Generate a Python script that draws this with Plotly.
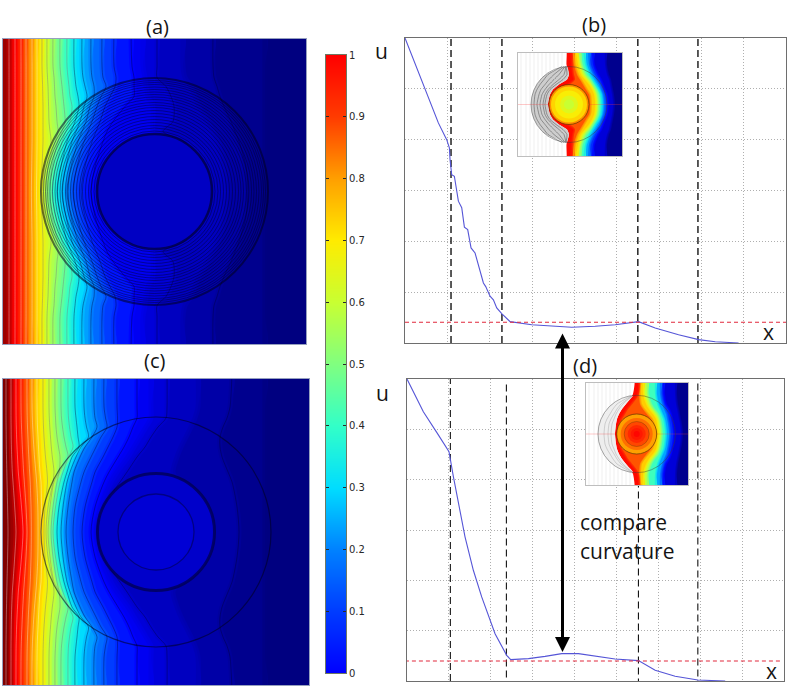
import numpy as np
import plotly.graph_objects as go

W, H = 792, 699

# ---------- colour scale (value -> rgb) ----------
CS_Z = [-0.17, 0, 0.1, 0.2, 0.3, 0.4, 0.5, 0.6, 0.7, 0.8, 0.9, 1.0, 1.13]
CS_R = [0, 0, 0, 0, 0, 50, 128, 200, 255, 255, 255, 255, 128]
CS_G = [0, 0, 60, 130, 220, 255, 255, 255, 235, 160, 60, 0, 0]
CS_B = [128, 255, 255, 255, 255, 200, 128, 50, 0, 0, 0, 0, 0]

# ---------- colour bar ----------
BAR_LEVELS = [0, 0.1, 0.2, 0.3, 0.4, 0.5, 0.6, 0.7, 0.8, 0.9, 1.0]

# ---------- panel (a): iso-line x position per row, one list per level ----------
A_ROWS = [160, 125, 114, 105, 95, 85, 70, 60, 50, 25, 0]
A_LEVELS = [-.2, -.167, -.133, -.1, -.067, -.033, 0, .067, .133, .2, .267, .333, .4, .467,
            .533, .6, .667, .733, .8, .867, .933, 1.0, 1.067]
A_NOLINE = [-.2, -.167, -.1, -.033]
A_ISO = [
    [320, 320, 320, 320, 320, 320, 320, 320, 320, 320, 320],
    [262, 262, 262, 262, 262, 262, 262, 262, 262, 262, 262],
    [210, 210, 211, 214, 217, 221, 228, 232, 236, 243, 245],
    [180, 180, 182, 188, 192, 196, 205, 210, 215, 222, 225],
    [154, 154, 154, 163, 168, 171, 170, 160, 181, 203, 209],
    [140, 140, 142, 143, 145, 150, 150, 150, 150, 150, 150],
    [128, 129, 131, 131, 131, 122, 110, 104, 100, 92, 88],
    [111, 111, 113, 112, 107, 102, 97, 93, 89, 82, 78],
    [99, 99, 100, 103, 98, 94, 89, 85, 81, 74, 70],
    [88, 88, 89, 91, 91, 87, 83, 79, 75, 68, 64],
    [79, 79, 80, 82, 84, 81, 77, 73, 69, 63, 59],
    [71, 71, 72, 73, 75, 76, 72, 68, 64, 58, 54],
    [64, 64, 65, 66, 67, 69, 67, 63, 59, 53, 49],
    [57, 57, 58, 59, 60, 61, 62, 59, 55, 49, 46],
    [50, 50, 51, 51.5, 52, 53, 54, 55, 52, 45, 43],
    [44, 44, 44.5, 45, 45.3, 45.6, 46, 47, 48, 42, 40],
    [39, 39, 39.3, 39.6, 39.8, 40, 40, 40, 40, 39, 37.5],
    [34, 34, 34, 34, 34, 34, 34, 34, 34, 33.8, 33.5],
    [29, 29, 29, 29, 29, 29, 29, 29, 29, 28.7, 28.4],
    [23, 23, 23, 23, 23, 23, 23, 23, 23, 23, 23],
    [18, 18, 18, 18, 18, 18, 18, 18, 18, 18, 18],
    [12, 12, 12, 12, 12, 12, 12, 12, 12, 12, 12],
    [6, 6, 6, 6, 6, 6, 6, 6, 6, 6, 6],
]
A_CENTER = 151.5
A_OUTER_R = 113.5
A_INNER_R = 57.5
A_INNER_U = -0.08
A_RINGS = [60.5, 63.5, 66, 69, 72, 75, 78, 81, 84, 86.5, 89, 92, 94.5, 97, 99.5, 102, 104.5, 107, 109, 111]

# ---------- panel (c) ----------
C_ROWS = [160, 125, 114, 105, 95, 85, 75, 60, 50, 25, 0]
C_LEVELS = [-.2, -.167, -.133, -.1, -.067, -.033, 0, .067, .133, .2, .267, .333, .4, .467,
            .533, .6, .667, .733, .8, .867, .933, 1.0, 1.067, 1.133]
C_NOLINE = [-.2, -.167, -.1, -.033]
C_ISO = [
    [320, 320, 320, 320, 320, 320, 320, 320, 320, 320, 320],
    [262, 262, 262, 262, 262, 262, 262, 262, 262, 262, 262],
    [229, 227, 224, 220, 217, 217, 219, 225, 229, 234, 236],
    [195, 195, 192, 188, 183, 178, 174, 170, 175, 180, 182],
    [164, 164, 163, 155, 148, 142, 134, 124, 117, 100, 94],
    [148, 148, 148, 143, 137, 131, 125, 114, 108, 98, 92],
    [134, 134, 134, 130, 126, 121, 115, 106, 101, 92, 88],
    [114, 114, 114.5, 114, 110, 105, 100, 92, 89, 82, 79],
    [101, 101, 102.5, 104, 98, 93, 88, 81, 78, 72, 70],
    [91, 91, 92, 94, 89, 82, 77, 71, 69, 65, 63],
    [81, 81, 82, 83.5, 85.5, 78, 73, 67, 64, 60, 58],
    [72, 72, 73, 74, 75, 76, 69, 64, 61, 56, 54],
    [65, 65, 65.5, 66.5, 68, 70, 65.5, 60, 57, 52.5, 50],
    [58, 58, 58.5, 59.5, 61, 63, 65, 56.5, 54, 50, 48],
    [52, 52, 52.5, 53, 54, 55.5, 57, 56, 51, 47, 45],
    [46, 46, 46.3, 46.8, 47.5, 48.3, 49.3, 51, 50, 45, 43],
    [40, 40, 40.2, 40.5, 41, 41.7, 42.5, 44, 44.5, 42, 41],
    [34, 34, 34.2, 34.5, 35, 35.5, 36, 37, 38, 38.5, 38],
    [29, 29, 29.3, 29.7, 30.2, 30.8, 31.5, 32.8, 33.6, 34.8, 35],
    [24, 24, 24.2, 24.5, 24.9, 25.3, 25.8, 26.6, 27.2, 28, 28.3],
    [18, 18, 18.2, 18.5, 18.9, 19.3, 19.8, 20.6, 21.3, 23, 24],
    [13, 13, 13.1, 13.3, 13.6, 14, 14.5, 15.3, 16.2, 18.5, 20],
    [8, 8, 8, 8.1, 8.2, 8.4, 8.7, 9.3, 10, 11.7, 13],
    [3, 3, 3, 3.1, 3.2, 3.3, 3.5, 3.8, 4, 4.6, 5],
]
C_CENTER = 153
C_OUTER_R = 115
C_MID_R = 58.5
C_MID_U = -0.07
C_CORE_R = 38
C_CORE_U = -0.055

# ---------- line plot (b) ----------
B_X = [0, .473, .788, .985, 1.048, 1.064, 1.103, 1.166, 1.261, 1.340, 1.403, 1.481, 1.560, 1.655,
       1.773, 1.852, 1.907, 2.009, 2.088, 2.167, 2.285, 2.482, 2.994, 3.467, 3.940, 4.492, 4.965,
       5.516, 5.910, 6.462, 6.935, 7.329, 7.88]
B_U = [6.0, 4.98, 4.33, 4.0, 3.84, 3.61, 3.31, 3.28, 2.79, 2.66, 2.28, 2.23, 1.87, 1.77,
       1.41, 1.18, 1.11, .92, .85, .69, .58, .42, .36, .33, .31, .33, .36,
       .42, .295, .164, .066, .026, 0]
B_DASH_X = [1.087, 2.29, 5.5, 6.92]
B_DASH_TOP = [6, 6, 6, 6]
B_DASH_BOTTOM = [0, 0, 0, 0]
B_REF_U = 0.407
B_REF_X = [0, 9.06]

# ---------- line plot (d) ----------
D_X = [0, .39, .748, 1.003, 1.107, 1.266, 1.385, 1.584, 1.783, 2.102, 2.38, 2.476, 2.898, 3.296,
       3.694, 4.092, 4.49, 4.968, 5.525, 5.924, 6.401, 6.943, 7.596]
D_U = [6, 5.35, 4.89, 4.556, 4.06, 3.395, 2.865, 2.2, 1.67, .94, .51, .424, .444, .49,
       .544, .544, .497, .438, .405, .212, .093, .02, 0]
D_DASH_X = [1.035, 2.373, 5.525, 6.943]
D_DASH_TOP = [6.08, 5.915, 3.9, 5.95]
D_DASH_BOTTOM = [0, -.15, -.09, -.13]
D_REF_U = 0.398
D_REF_X = [-.05, 8.96]

# ---------- inset of (b) ----------
IB_ROWS = [58, 40, 30, 25, 20, 15, 10, 0]
IB_LEVELS = [-.2, -.1, 0, .15, .33, .5, .68, .8, .95]
IB_ISO = [
    [120, 120, 120, 120, 120, 120, 120, 120],
    [88, 88, 90, 92, 93, 94, 95, 96],
    [75, 76, 80, 83, 85, 87, 89, 90],
    [71, 72, 76, 79, 82, 84, 86, 87],
    [66, 68, 72, 75, 78, 81, 83, 84],
    [61, 64, 68, 72, 75, 78, 80, 81],
    [58, 61, 64, 68, 72, 75, 77, 78],
    [55, 57, 60, 63, 66, 69, 72, 73],
    [53, 54, 55, 56, 50, 43, 36, 33],
]
IB_FRONT = [47.7, 48.5, 51, 49, 41, 35, 32, 30]
IB_GRAY_ROWS = [38, 30, 25, 20, 15, 10, 0]
IB_GRAY_LEFT = [49, 27.7, 22.4, 18.7, 16, 14.3, 13]
IB_GRAY_RIGHT = [49, 51, 49, 41, 35, 32, 30]
IB_ARCS = [
    [44, 30, 26, 22, 19, 17, 16],
    [46, 36, 31, 27, 23, 21, 19],
    [47, 41, 36, 31, 27, 24, 22],
    [48, 46, 41, 35, 30, 27, 25],
    [48, 49, 45, 38, 32, 29, 27],
]
IB_CENTER = 51
IB_OUTER_R = 38
IB_DISC_R = [20, 18, 14, 9, 5]
IB_DISC_U = [.82, .73, .69, .64, .6]

# ---------- inset of (d) ----------
ID_ROWS = [58, 40, 30, 25, 20, 15, 10, 0]
ID_LEVELS = [-.2, -.1, 0, .15, .33, .5, .68, .8, .95]
ID_ISO = [
    [120, 120, 120, 120, 120, 120, 120, 120],
    [90, 90, 91, 92, 93, 94, 95, 96],
    [78, 78, 80, 83, 85, 86, 87, 88],
    [75, 75, 77, 79, 81, 82, 83, 84],
    [70, 70, 72, 74, 76, 78, 79, 80],
    [62, 62, 65, 68, 72, 74, 75, 76],
    [58, 58, 61, 64, 68, 71, 72, 73],
    [54, 54, 55, 58, 62, 66, 68, 70],
    [53, 52, 45, 41, 38, 35, 33, 32],
]
ID_FRONT = [48, 47, 40, 36, 33, 31, 30, 29]
ID_GRAY_ROWS = [38, 30, 25, 20, 15, 10, 0]
ID_GRAY_LEFT = [43, 26, 21, 17.6, 15, 13.4, 12]
ID_GRAY_RIGHT = [47, 40, 36, 33, 31, 30, 29]
ID_ARCS = [
    [45, 31, 27, 24, 21, 19, 18],
    [46, 35, 31, 28, 25, 23, 22],
    [46, 37, 33, 30, 28, 26, 25],
]
ID_CENTER = 50.7
ID_OUTER_R = 38.7
ID_DISC_R = [20, 16, 12.5, 9, 6, 3]
ID_DISC_U = [.8, .85, .89, .93, .96, .99]
INSET_GRID_X = [3, 8, 12, 16, 20, 24, 28, 32, 36, 40, 44]
INSET_GRID_STOP = [0, 0, 0, 18, 24, 28, 31, 34, 36, 37, 38]

# ---------- texts ----------
PANEL_TITLES = ["(a)", "(b)", "(c)", "(d)"]
AXIS_U = "u"
AXIS_X = "x"
NOTE_LINES = ["compare", "curvature"]


def rgb(u):
    return "rgb(%d,%d,%d)" % (np.interp(u, CS_Z, CS_R), np.interp(u, CS_Z, CS_G), np.interp(u, CS_Z, CS_B))


def rgba(u, a):
    return "rgba(%d,%d,%d,%g)" % (np.interp(u, CS_Z, CS_R), np.interp(u, CS_Z, CS_G), np.interp(u, CS_Z, CS_B), a)


def px_x(v):
    return v / W


def px_y(v):
    return 1 - v / H


fig = go.Figure()
layout = dict(
    width=W, height=H, margin=dict(l=0, r=0, t=0, b=0, pad=0, autoexpand=False), autosize=False,
    showlegend=False, paper_bgcolor="white", plot_bgcolor="white",
)


def add_axes(n, x0, x1, y0, y1, xr, yr, **kw):
    sx = "" if n == 1 else str(n)
    base = dict(showgrid=False, zeroline=False, showticklabels=False, ticks="")
    xa = dict(base, domain=[px_x(x0), px_x(x1)], range=xr, anchor="y" + sx)
    ya = dict(base, domain=[px_y(y1), px_y(y0)], range=yr, anchor="x" + sx)
    xa.update(kw.get("x", {}))
    ya.update(kw.get("y", {}))
    layout["xaxis" + sx] = xa
    layout["yaxis" + sx] = ya
    return "x" + sx, "y" + sx


def mirrored(rows, vals):
    ys = list(rows) + [-r for r in reversed(rows[:-1])]
    xs = list(vals) + list(reversed(vals[:-1]))
    return xs, ys


def line_color(level):
    if level >= 0.7:
        return "rgba(255,255,255,0.38)"
    if level >= 0.4:
        return "rgba(120,120,120,0.45)"
    return "rgba(0,0,50,0.42)"


def add_bands(xr, yr, rows, levels, iso, noline, left, soft=5):
    paths = []
    for i, lv in enumerate(levels):
        top = levels[i + 1] if i + 1 < len(levels) else lv + 0.067
        xs, ys = mirrored(rows, iso[i])
        paths.append((lv, xs, ys))
        fig.add_trace(go.Scatter(
            x=[left] + xs + [left], y=[ys[0]] + ys + [ys[-1]], xaxis=xr, yaxis=yr,
            mode="lines", fill="toself", fillcolor=rgb((lv + top) / 2),
            line=dict(color="rgba(0,0,0,0)", width=0, shape="spline", smoothing=0.8),
            hoverinfo="skip"))
    for lv, xs, ys in paths:
        if soft:
            fig.add_trace(go.Scatter(x=xs, y=ys, xaxis=xr, yaxis=yr, mode="lines",
                                     line=dict(color=rgba(lv, 0.75), width=soft, shape="spline", smoothing=0.8),
                                     hoverinfo="skip"))
    for lv, xs, ys in paths:
        if lv not in noline:
            fig.add_trace(go.Scatter(x=xs, y=ys, xaxis=xr, yaxis=yr, mode="lines",
                                     line=dict(color=line_color(lv), width=0.9, shape="spline", smoothing=0.8),
                                     hoverinfo="skip"))


def circle(xr, yr, cx, r, color, width, fill=None):
    layout.setdefault("shapes", []).append(dict(
        type="circle", xref=xr, yref=yr, x0=cx - r, x1=cx + r, y0=-r, y1=r,
        line=dict(color=color, width=width), fillcolor=fill or "rgba(0,0,0,0)", layer="above"))


frame = dict(showline=True, linecolor="rgb(150,160,190)", linewidth=1, mirror=True)
# panel (a)
xa, ya = add_axes(1, 3, 306, 39, 344, [0, 303], [-152.5, 152.5], x=frame, y=frame)
add_bands(xa, ya, A_ROWS, A_LEVELS, A_ISO, A_NOLINE, -8)
circle(xa, ya, A_CENTER, A_INNER_R, "rgba(0,0,0,0)", 0, rgb(A_INNER_U))
for r in A_RINGS:
    circle(xa, ya, A_CENTER, r, "rgba(0,0,30,0.42)", 1)
circle(xa, ya, A_CENTER, A_OUTER_R, "rgba(0,0,30,0.55)", 2)
circle(xa, ya, A_CENTER, A_INNER_R, "rgba(0,0,50,0.7)", 2.6)

# panel (c)
xc, yc = add_axes(2, 3, 309, 379, 685, [0, 306], [-153, 153], x=frame, y=frame)
add_bands(xc, yc, C_ROWS, C_LEVELS, C_ISO, C_NOLINE, -8)
circle(xc, yc, C_CENTER, C_MID_R, "rgba(0,0,70,0.7)", 3, rgb(C_MID_U))
circle(xc, yc, C_CENTER, C_CORE_R, "rgba(0,0,60,0.5)", 1.3, rgb(C_CORE_U))
circle(xc, yc, C_CENTER, C_OUTER_R, "rgba(0,0,30,0.55)", 1.2)

# line plots
box = dict(showline=True, linecolor="rgb(110,110,110)", linewidth=1.2, mirror=True, showgrid=True,
           gridcolor="rgb(175,175,175)", griddash="1px,2px", gridwidth=1, dtick=1, tick0=0)
for n, geom, cx, cu, dx, dt, db, ru, rx, dw in [
    (3, (405, 786, 38, 343), B_X, B_U, B_DASH_X, B_DASH_TOP, B_DASH_BOTTOM, B_REF_U, B_REF_X, 1.4),
    (4, (407, 784, 379, 681), D_X, D_U, D_DASH_X, D_DASH_TOP, D_DASH_BOTTOM, D_REF_U, D_REF_X, 1.1),
]:
    xn, yn = add_axes(n, *geom, [0, 9], [0, 6], x=box, y=box)
    for x, top, bottom in zip(dx, dt, db):
        fig.add_trace(go.Scatter(x=[x, x], y=[bottom, top], xaxis=xn, yaxis=yn, mode="lines", cliponaxis=False,
                                 line=dict(color="rgb(20,20,20)", width=dw, dash="7px,4px"), hoverinfo="skip"))
    fig.add_trace(go.Scatter(x=cx, y=cu, xaxis=xn, yaxis=yn, mode="lines", cliponaxis=False,
                             line=dict(color="rgb(85,85,215)", width=1.1), hoverinfo="skip"))
    fig.add_trace(go.Scatter(x=rx, y=[ru, ru], xaxis=xn, yaxis=yn, mode="lines", cliponaxis=False,
                             line=dict(color="rgb(225,40,60)", width=1.1, dash="4px,3px"), hoverinfo="skip"))

# insets
inset_frame = dict(showline=True, linecolor="rgb(190,190,190)", linewidth=1, mirror=True)


def add_inset(n, geom, rows, levels, iso, front, gray_rows, gray_l, gray_r, gray_fill, arcs, arc_color,
              cx, outer_r, disc_r, disc_u, ring_idx):
    w = geom[1] - geom[0]
    h = geom[3] - geom[2]
    xi, yi = add_axes(n, *geom, [0, w], [-h / 2, h / 2], x=inset_frame, y=inset_frame)
    add_bands(xi, yi, rows, levels, iso, levels, -5, soft=2)
    xs, ys = mirrored(rows, front)
    fig.add_trace(go.Scatter(x=[-5] + xs + [-5], y=[ys[0]] + ys + [ys[-1]], xaxis=xi, yaxis=yi, mode="lines",
                             fill="toself", fillcolor="white",
                             line=dict(color="rgba(0,0,0,0)", width=0, shape="spline", smoothing=0.5),
                             hoverinfo="skip"))
    for x, stop in zip(INSET_GRID_X, INSET_GRID_STOP):
        for y0, y1 in ([(-h / 2, h / 2)] if stop == 0 else [(stop, h / 2), (-h / 2, -stop)]):
            fig.add_trace(go.Scatter(x=[x, x], y=[y0, y1], xaxis=xi, yaxis=yi, mode="lines",
                                     line=dict(color="rgba(170,170,170,0.35)", width=0.5), hoverinfo="skip"))
    lx, ly = mirrored(gray_rows, gray_l)
    rx, ry = mirrored(gray_rows, gray_r)
    fig.add_trace(go.Scatter(x=lx + rx[::-1], y=ly + ry[::-1], xaxis=xi, yaxis=yi, mode="lines",
                             fill="toself", fillcolor=gray_fill,
                             line=dict(color="rgba(0,0,0,0)", width=0, shape="spline", smoothing=0.5),
                             hoverinfo="skip"))
    for arc in arcs:
        ax_, ay_ = mirrored(gray_rows, arc)
        fig.add_trace(go.Scatter(x=ax_, y=ay_, xaxis=xi, yaxis=yi, mode="lines",
                                 line=dict(color=arc_color, width=0.7, shape="spline", smoothing=0.5),
                                 hoverinfo="skip"))
    for r, u in zip(disc_r, disc_u):
        circle(xi, yi, cx, r, "rgba(0,0,0,0)", 0, rgb(u))
    circle(xi, yi, cx, disc_r[0], "rgba(70,40,0,0.6)", 1)
    for k in ring_idx:
        circle(xi, yi, cx, disc_r[k], "rgba(90,60,0,0.45)", 0.8)
    circle(xi, yi, cx, outer_r, "rgba(60,60,60,0.45)", 1)
    fig.add_trace(go.Scatter(x=[0, w], y=[0, 0], xaxis=xi, yaxis=yi, mode="lines",
                             line=dict(color="rgba(255,60,60,0.35)", width=0.8), hoverinfo="skip"))


add_inset(5, (518, 622, 53, 156), IB_ROWS, IB_LEVELS, IB_ISO, IB_FRONT, IB_GRAY_ROWS, IB_GRAY_LEFT, IB_GRAY_RIGHT,
          "rgb(205,205,205)", IB_ARCS, "rgba(70,70,70,0.7)", IB_CENTER, IB_OUTER_R, IB_DISC_R, IB_DISC_U, [])
add_inset(6, (586, 688, 383, 485), ID_ROWS, ID_LEVELS, ID_ISO, ID_FRONT, ID_GRAY_ROWS, ID_GRAY_LEFT, ID_GRAY_RIGHT,
          "rgb(238,238,238)", ID_ARCS, "rgba(150,150,150,0.55)", ID_CENTER, ID_OUTER_R, ID_DISC_R, ID_DISC_U, [2])

# colour bar
xb, yb = add_axes(7, 326, 346, 55, 673, [0, 1], [0, 1],
                  y=dict(side="right", showticklabels=True, ticks="inside", ticklen=3, tickcolor="rgb(40,40,40)",
                         tickvals=BAR_LEVELS, ticktext=[("%g" % v) for v in BAR_LEVELS], mirror="allticks",
                         showline=True, linecolor="rgb(110,120,100)", linewidth=1,
                         tickfont=dict(family="DejaVu Sans", size=10, color="rgb(40,40,40)")),
                  x=dict(showline=True, linecolor="rgb(110,120,100)", linewidth=1, mirror=True))
fig.add_trace(go.Heatmap(x=[0, 1], y=BAR_LEVELS, z=[[v, v] for v in BAR_LEVELS], xaxis=xb, yaxis=yb,
                         zsmooth="best", showscale=False, zmin=CS_Z[0], zmax=CS_Z[-1], hoverinfo="skip",
                         colorscale=[[(z - CS_Z[0]) / (CS_Z[-1] - CS_Z[0]), rgb(z)] for z in CS_Z]))


def label(text, x, y, size, anchor="center"):
    return dict(text=text, x=px_x(x), y=px_y(y), xref="paper", yref="paper", showarrow=False,
                xanchor=anchor, yanchor="middle",
                font=dict(family="Open Sans", size=size, color="rgb(20,20,20)"))


layout["annotations"] = [
    label(PANEL_TITLES[0], 157, 26, 20),
    label(PANEL_TITLES[1], 594, 24, 20),
    label(PANEL_TITLES[2], 154, 360, 20),
    label(PANEL_TITLES[3], 585, 365, 20),
    label(AXIS_U, 381, 51, 21),
    label(AXIS_U, 382, 393, 21),
    label(AXIS_X, 768, 332, 21),
    label(AXIS_X, 771, 671, 21),
    label(NOTE_LINES[0], 578, 522, 21, "left"),
    label(NOTE_LINES[1], 578, 551, 21, "left"),
    dict(x=px_x(562.5), y=px_y(652), xref="paper", yref="paper", ax=0, ay=-320, text="", showarrow=True,
         arrowhead=2, startarrowhead=2, arrowside="end+start", arrowwidth=3, arrowsize=1, startarrowsize=1,
         arrowcolor="black", standoff=0, startstandoff=0),
]

fig.update_layout(**layout)
fig.write_html("out.html", config=dict(displayModeBar=False),
               post_script="document.body.style.margin='0';")
